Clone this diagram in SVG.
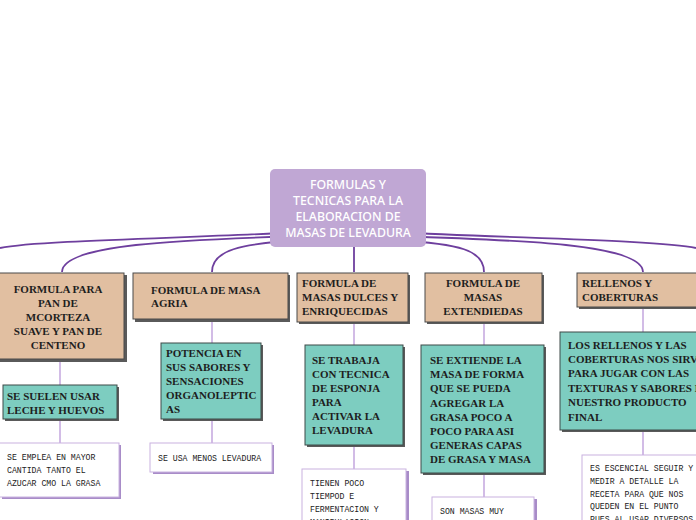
<svg xmlns="http://www.w3.org/2000/svg" width="696" height="520" viewBox="0 0 696 520">
<defs>
<style>
.main{fill:none;stroke:#6e3f9e;stroke-width:1.8}
.sub{fill:none;stroke:#c3a6de;stroke-width:1.5}
.tan{fill:#e1bfa1;stroke:#4a4a4a;stroke-width:1}
.teal{fill:#7dcdc0;stroke:#3e4a48;stroke-width:1}
.shd{fill:#5a5a5a}
.wshd{fill:#a88cc8}
.white{fill:#ffffff;stroke:#c9b2e0;stroke-width:1}
.ctr{fill:#c0a7d4}
.ct{font-family:"Noto Sans","Open Sans",sans-serif;font-size:12.3px;font-weight:500;fill:#ffffff;text-anchor:middle}
.bt{font-family:"Liberation Serif","DejaVu Serif",serif;font-weight:bold;font-size:11px;fill:#1e1e1e}
.mid{text-anchor:middle}
.mt{font-family:"Liberation Mono","DejaVu Sans Mono",monospace;font-size:8.2px;fill:#222222}
</style>
</defs>
<rect width="696" height="520" fill="#ffffff"/>
<g id="connectors">
<path class="main" d="M300 232 C200 238 40 240 0 248"/>
<path class="main" d="M300 236 C180 240 62 244 62 272"/>
<path class="main" d="M300 240 C240 244 212 250 212 272"/>
<path class="main" d="M354 247 L354 272"/>
<path class="main" d="M396 240 C460 244 484 250 484 272"/>
<path class="main" d="M396 236 C520 240 643 244 643 272"/>
<path class="main" d="M396 232 C500 238 660 240 696 248"/>
<path class="sub" d="M60 360 V385 M60 419 V443"/>
<path class="sub" d="M212 320 V343 M212 419 V443"/>
<path class="sub" d="M354 322 V345 M354 445 V469"/>
<path class="sub" d="M484 322 V345 M484 473 V497"/>
<path class="sub" d="M643 307 V332 M643 430 V455"/>
</g>
<g id="center">
<rect class="ctr" x="270" y="169" width="156" height="78" rx="5"/>
<text class="ct" x="348" y="189">FORMULAS Y</text>
<text class="ct" x="348" y="205">TECNICAS PARA LA</text>
<text class="ct" x="348" y="221">ELABORACION DE</text>
<text class="ct" x="348" y="237">MASAS DE LEVADURA</text>
</g>
<g id="n1">
<rect class="shd" x="-1" y="275" width="128" height="87"/>
<rect class="tan" x="-3" y="273" width="127" height="86"/>
<text class="bt mid" x="58" y="293">FORMULA PARA</text>
<text class="bt mid" x="58" y="307">PAN DE</text>
<text class="bt mid" x="58" y="321">MCORTEZA</text>
<text class="bt mid" x="58" y="335">SUAVE Y PAN DE</text>
<text class="bt mid" x="58" y="349">CENTENO</text>
</g>
<g id="n1a">
<rect class="shd" x="5" y="387" width="114" height="34"/>
<rect class="teal" x="3" y="385" width="114" height="34"/>
<text class="bt" x="7" y="400">SE SUELEN USAR</text>
<text class="bt" x="7" y="414">LECHE Y HUEVOS</text>
</g>
<g id="n1b">
<rect class="wshd" x="2" y="445" width="119" height="54"/>
<rect class="white" x="-2" y="443" width="121" height="54"/>
<text class="mt" x="7" y="460">SE EMPLEA EN MAYOR</text>
<text class="mt" x="7" y="473">CANTIDA TANTO EL</text>
<text class="mt" x="7" y="486">AZUCAR CMO LA GRASA</text>
</g>
<g id="n2">
<rect class="shd" x="135" y="275" width="155" height="47"/>
<rect class="tan" x="133" y="273" width="155" height="46"/>
<text class="bt" x="151" y="294">FORMULA DE MASA</text>
<text class="bt" x="151" y="307">AGRIA</text>
</g>
<g id="n2a">
<rect class="shd" x="163" y="345" width="100" height="76"/>
<rect class="teal" x="161" y="343" width="100" height="76"/>
<text class="bt" x="166" y="357">POTENCIA EN</text>
<text class="bt" x="166" y="371">SUS SABORES Y</text>
<text class="bt" x="166" y="385">SENSACIONES</text>
<text class="bt" x="166" y="399">ORGANOLEPTIC</text>
<text class="bt" x="166" y="413">AS</text>
</g>
<g id="n2b">
<rect class="wshd" x="153" y="445" width="121" height="29"/>
<rect class="white" x="150" y="443" width="122" height="29"/>
<text class="mt" x="158" y="461">SE USA MENOS LEVADURA</text>
</g>
<g id="n3">
<rect class="shd" x="299" y="275" width="111" height="49"/>
<rect class="tan" x="297" y="273" width="111" height="49"/>
<text class="bt" x="302" y="287">FORMULA DE</text>
<text class="bt" x="302" y="301">MASAS DULCES Y</text>
<text class="bt" x="302" y="315">ENRIQUECIDAS</text>
</g>
<g id="n3a">
<rect class="shd" x="307" y="347" width="98" height="100"/>
<rect class="teal" x="305" y="345" width="98" height="100"/>
<text class="bt" x="312" y="364">SE TRABAJA</text>
<text class="bt" x="312" y="378">CON TECNICA</text>
<text class="bt" x="312" y="392">DE ESPONJA</text>
<text class="bt" x="312" y="406">PARA</text>
<text class="bt" x="312" y="420">ACTIVAR LA</text>
<text class="bt" x="312" y="434">LEVADURA</text>
</g>
<g id="n3b">
<rect class="wshd" x="305" y="471" width="104" height="60"/>
<rect class="white" x="302" y="469" width="104" height="60"/>
<text class="mt" x="310" y="486">TIENEN POCO</text>
<text class="mt" x="310" y="499">TIEMPOD E</text>
<text class="mt" x="310" y="512">FERMENTACION Y</text>
<text class="mt" x="310" y="525">MANIPULACION</text>
</g>
<g id="n4">
<rect class="shd" x="427" y="275" width="117" height="49"/>
<rect class="tan" x="425" y="273" width="117" height="49"/>
<text class="bt mid" x="483" y="287">FORMULA DE</text>
<text class="bt mid" x="483" y="301">MASAS</text>
<text class="bt mid" x="483" y="315">EXTENDIEDAS</text>
</g>
<g id="n4a">
<rect class="shd" x="423" y="347" width="123" height="128"/>
<rect class="teal" x="421" y="345" width="123" height="128"/>
<text class="bt" x="430" y="364">SE EXTIENDE LA</text>
<text class="bt" x="430" y="378">MASA DE FORMA</text>
<text class="bt" x="430" y="392">QUE SE PUEDA</text>
<text class="bt" x="430" y="407">AGREGAR LA</text>
<text class="bt" x="430" y="421">GRASA POCO A</text>
<text class="bt" x="430" y="435">POCO PARA ASI</text>
<text class="bt" x="430" y="449">GENERAS CAPAS</text>
<text class="bt" x="430" y="463">DE GRASA Y MASA</text>
</g>
<g id="n4b">
<rect class="wshd" x="435" y="499" width="102" height="40"/>
<rect class="white" x="432" y="497" width="102" height="40"/>
<text class="mt" x="440" y="514">SON MASAS MUY</text>
</g>
<g id="n5">
<rect class="shd" x="579" y="275" width="130" height="34"/>
<rect class="tan" x="577" y="273" width="130" height="34"/>
<text class="bt" x="582" y="287">RELLENOS Y</text>
<text class="bt" x="582" y="301">COBERTURAS</text>
</g>
<g id="n5a">
<rect class="shd" x="562" y="334" width="150" height="98"/>
<rect class="teal" x="560" y="332" width="150" height="98"/>
<text class="bt" x="568" y="349">LOS RELLENOS Y LAS</text>
<text class="bt" x="568" y="363">COBERTURAS NOS SIRVEN</text>
<text class="bt" x="568" y="377">PARA JUGAR CON LAS</text>
<text class="bt" x="568" y="392">TEXTURAS Y SABORES DE</text>
<text class="bt" x="568" y="406">NUESTRO PRODUCTO</text>
<text class="bt" x="568" y="421">FINAL</text>
</g>
<g id="n5b">
<rect class="wshd" x="585" y="457" width="130" height="80"/>
<rect class="white" x="582" y="455" width="130" height="80"/>
<text class="mt" x="590" y="471">ES ESCENCIAL SEGUIR Y</text>
<text class="mt" x="590" y="484">MEDIR A DETALLE LA</text>
<text class="mt" x="590" y="497">RECETA PARA QUE NOS</text>
<text class="mt" x="590" y="509">QUEDEN EN EL PUNTO</text>
<text class="mt" x="590" y="522">PUES AL USAR DIVERSOS</text>
</g>
</svg>
